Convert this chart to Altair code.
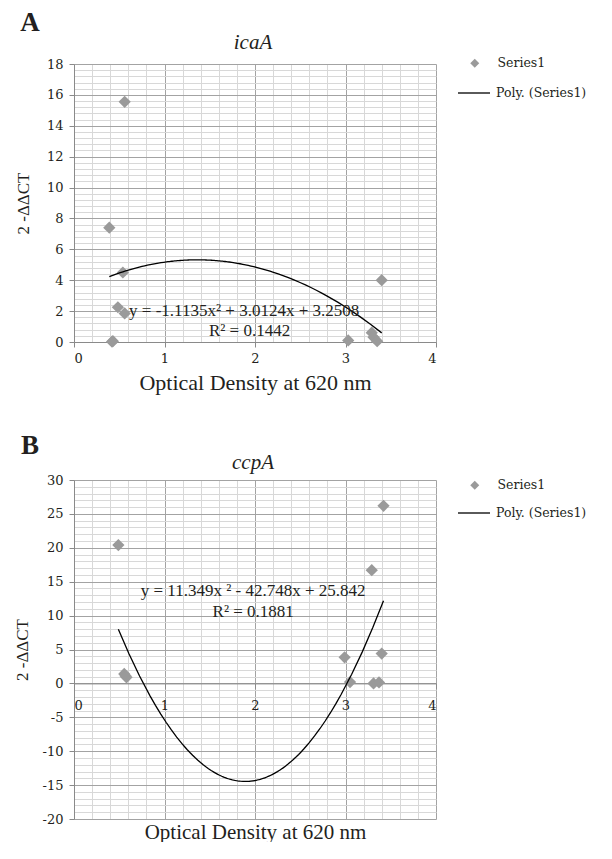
import altair as alt
import pandas as pd

FONT = "Liberation Serif"
LFONT = "DejaVu Serif"
TXT = "#231f20"
PT = "#9a9a9a"
MAJ = "#a3a3a3"
MIN = "#d8d8d8"
AX = "#8a8a8a"

# ---- data ----
# Panel A : icaA
a_od = [0.39, 0.42, 0.43, 0.485, 0.54, 0.56, 0.56, 3.03, 3.29, 3.31, 3.35, 3.40]
a_val = [7.4, 0.02, 0.05, 2.25, 4.5, 15.55, 1.85, 0.1, 0.6, 0.3, 0.05, 4.0]
# Panel B : ccpA
b_od = [0.49, 0.555, 0.57, 0.58, 2.99, 3.05, 3.29, 3.31, 3.37, 3.40, 3.42]
b_val = [20.4, 1.4, 1.1, 0.9, 3.85, 0.2, 16.7, 0.0, 0.15, 4.4, 26.2]

x_major = [0, 1, 2, 3, 4]
x_grid = [round(i * 0.2, 1) for i in range(21)]
a_y_major = [0, 2, 4, 6, 8, 10, 12, 14, 16, 18]
a_y_grid = [round(i * 0.4, 1) for i in range(46)]
b_y_major = [-20, -15, -10, -5, 0, 5, 10, 15, 20, 25, 30]
b_y_grid = list(range(-20, 31))

a_eq = ["y = -1.1135x² + 3.0124x + 3.2508", "R² = 0.1442"]
a_eq_od = [1.88, 1.94]
a_eq_val = [2.0, 0.73]
b_eq = ["y = 11.349x ² - 42.748x + 25.842", "R² = 0.1881"]
b_eq_od = [1.98, 1.98]
b_eq_val = [13.7, 10.5]

X_TITLE = "Optical Density at 620 nm"
Y_TITLE = "2 -ΔΔCT"
S1 = "Series1"
S2 = "Poly. (Series1)"

W = 362
MINUS_FIX = "replace(datum.label, '\u2212', '-')"


def grid_color(step):
    return {
        "condition": {
            "test": f"abs(datum.value/{step} - round(datum.value/{step})) < 1e-6",
            "value": MAJ,
        },
        "value": MIN,
    }


def panel(letter, gene, od, val, ydom, y_major, y_grid, ystep, H,
          eq, eq_od, eq_val, letter_y, gene_y, ytitle_pad, xlab_pad,
          xtitle_pad, xtitle_size, leg1_y, leg2_y):
    df = pd.DataFrame({"od": od, "val": val})
    xscale = alt.Scale(domain=[0, 4], nice=False, zero=False)
    yscale = alt.Scale(domain=ydom, nice=False, zero=False)
    x_off = -(0 - ydom[0]) / (ydom[1] - ydom[0]) * H

    x_grid_axis = alt.Axis(
        orient="bottom", values=x_grid, grid=True, gridColor=grid_color(1),
        labels=False, ticks=False, domain=False, title=X_TITLE,
        titleFont=FONT, titleFontSize=xtitle_size, titleFontWeight="normal",
        titleColor=TXT, titlePadding=xtitle_pad,
    )
    y_grid_axis = alt.Axis(
        orient="left", values=y_grid, grid=True, gridColor=grid_color(ystep),
        labels=False, ticks=False, domain=False, title=None,
    )
    x_lab_axis = alt.Axis(
        orient="bottom", values=x_major, grid=False, labelFont=LFONT,
        labelFontSize=13, labelColor=TXT, labelPadding=xlab_pad, tickSize=5,
        tickColor=AX, domainColor=AX, title=None, offset=x_off,
    )
    y_lab_axis = alt.Axis(
        orient="left", values=y_major, grid=False, labelFont=LFONT,
        labelFontSize=13, labelColor=TXT, labelPadding=6, tickSize=5,
        labelExpr=MINUS_FIX,
        tickColor=AX, domainColor=AX, title=Y_TITLE, titleFont=FONT,
        titleFontSize=17, titleFontWeight="normal", titleColor=TXT,
        titlePadding=ytitle_pad,
    )

    pts = (
        alt.Chart(df)
        .transform_calculate(s=f"'{S1}'")
        .mark_point(shape="diamond", filled=True, size=150, opacity=1)
        .encode(
            x=alt.X("od:Q", scale=xscale, axis=x_grid_axis),
            y=alt.Y("val:Q", scale=yscale, axis=y_grid_axis),
            fill=alt.Fill(
                "s:N",
                scale=alt.Scale(domain=[S1], range=[PT]),
                legend=alt.Legend(
                    title=None, orient="none", legendX=W + 32.5, legendY=leg1_y,
                    symbolType="diamond", symbolSize=81, symbolStrokeWidth=0,
                    labelFont=LFONT, labelFontSize=12.5, labelColor=TXT,
                    labelOffset=16.5, padding=0,
                ),
            ),
        )
    )
    line = (
        alt.Chart(df)
        .transform_regression("od", "val", method="poly", order=2)
        .transform_calculate(s2=f"'{S2}'")
        .mark_line(strokeWidth=1.3)
        .encode(
            x=alt.X("od:Q", scale=xscale, axis=x_lab_axis),
            y=alt.Y("val:Q", scale=yscale, axis=y_lab_axis),
            stroke=alt.Stroke(
                "s2:N",
                scale=alt.Scale(domain=[S2], range=["black"]),
                legend=alt.Legend(
                    title=None, orient="none", legendX=W + 21, legendY=leg2_y,
                    symbolType="stroke", symbolSize=1024, symbolStrokeWidth=1.3,
                    labelFont=LFONT, labelFontSize=12.5, labelColor=TXT,
                    labelOffset=5, padding=0,
                ),
            ),
        )
    )
    eq_df = pd.DataFrame({"od": eq_od, "val": eq_val, "t": eq})
    eqs = (
        alt.Chart(eq_df)
        .mark_text(font=FONT, fontSize=17, color=TXT)
        .encode(
            x=alt.X("od:Q", scale=xscale, axis=None),
            y=alt.Y("val:Q", scale=yscale, axis=None),
            text="t:N",
        )
    )
    gene_txt = (
        alt.Chart(pd.DataFrame({"t": [gene]}))
        .mark_text(font=FONT, fontSize=21, fontStyle="italic", color=TXT,
                   baseline="alphabetic")
        .encode(x=alt.value(W / 2 - 2), y=alt.value(gene_y), text="t:N")
    )
    letter_txt = (
        alt.Chart(pd.DataFrame({"t": [letter]}))
        .mark_text(font=FONT, fontSize=27, fontWeight="bold", color=TXT,
                   baseline="alphabetic")
        .encode(x=alt.value(-44), y=alt.value(letter_y), text="t:N")
    )
    return (
        alt.layer(pts, line, eqs, gene_txt, letter_txt)
        .resolve_axis(x="independent", y="independent")
        .resolve_legend(fill="independent", stroke="independent")
        .properties(width=W, height=H)
    )


pa = panel("A", "icaA", a_od, a_val, [0, 18], a_y_major, a_y_grid, 2, 278,
           a_eq, a_eq_od, a_eq_val, letter_y=-33.5, gene_y=-15, ytitle_pad=13.9,
           xlab_pad=5, xtitle_pad=30, xtitle_size=22, leg1_y=-7, leg2_y=12)
pb = panel("B", "ccpA", b_od, b_val, [-20, 30], b_y_major, b_y_grid, 5, 339,
           b_eq, b_eq_od, b_eq_val, letter_y=-26, gene_y=-11, ytitle_pad=10.4,
           xlab_pad=11, xtitle_pad=2, xtitle_size=21, leg1_y=-1, leg2_y=16)

chart = (
    alt.vconcat(pa, pb, spacing=39)
    .properties(padding={"left": 5, "top": 0, "right": 0, "bottom": 0})
    .configure(font=FONT)
    .configure_view(stroke=None)
)

chart.save("out.html", embed_options={"renderer": "svg", "actions": False})
